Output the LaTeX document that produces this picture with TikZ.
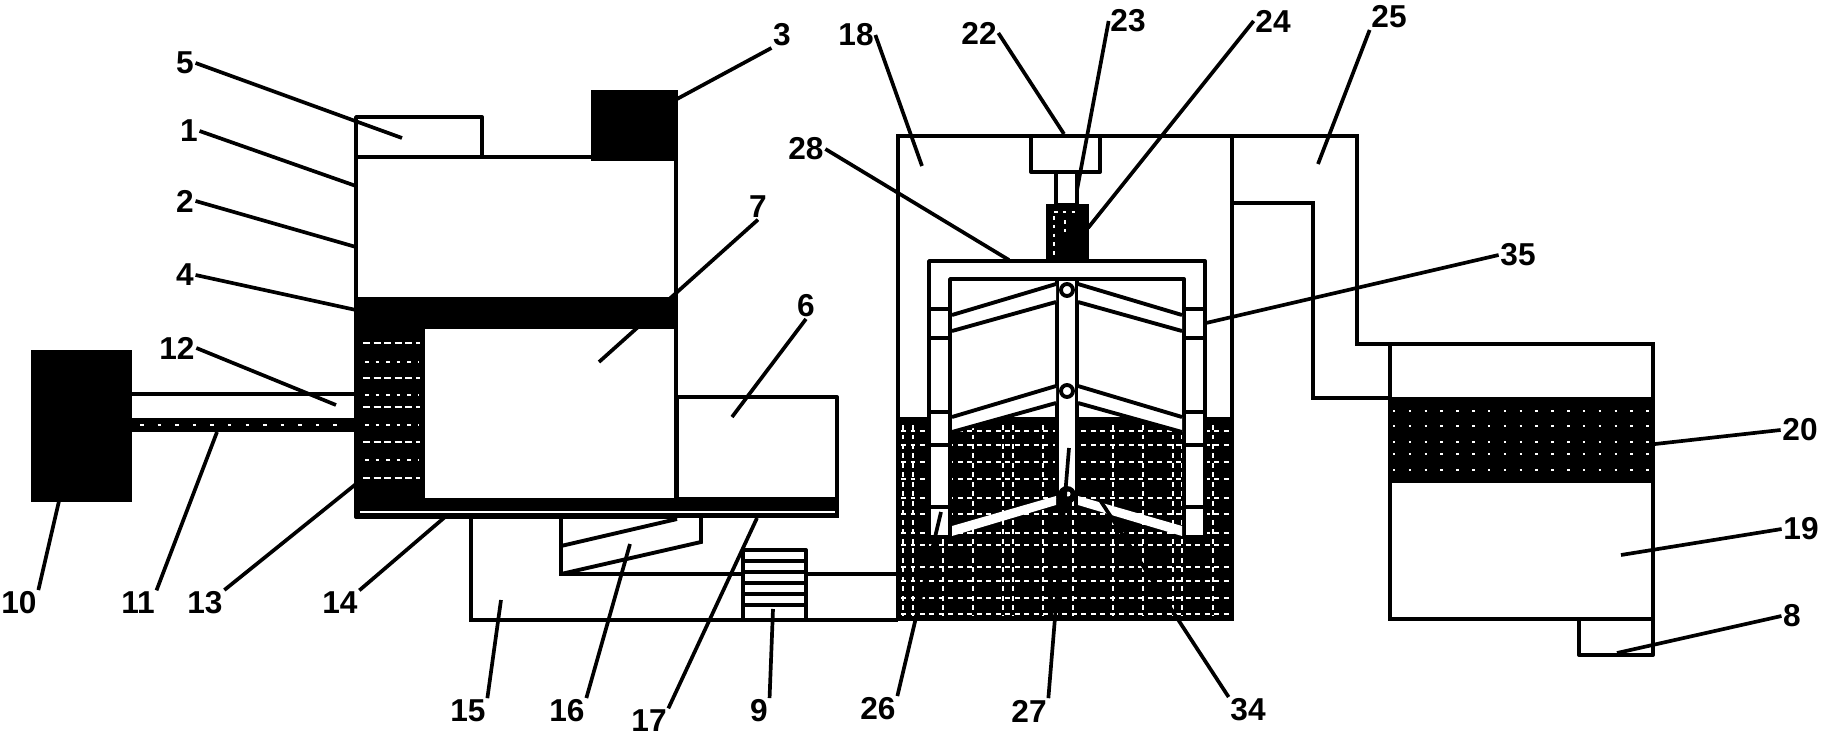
\documentclass[tikz,border=0pt]{standalone}
\usepackage{fontspec}
\setmainfont{Liberation Sans}
\tikzset{
  part/.style={line width=1.1pt, fill=white, line join=round},
  solid black/.style={fill=black, draw=black, line width=0.6pt},
  speck/.style={white, line width=0.32pt, dash pattern=on 1.4pt off 1.3pt},
  leader/.style={line width=1.05pt, black},
  lab/.style={font=\fontsize{9}{10}\bfseries, inner sep=0.3pt}
}
\begin{document}
\begin{tikzpicture}[x=0.01cm,y=-0.01cm]
        \useasboundingbox (0,0) rectangle (1823,736);
        % left housing
        \draw[part] (356,117) rectangle (482,157);
        \draw[part] (356,157) rectangle (676,517);
        \draw[solid black] (592,91) rectangle (677,160);
        \draw[solid black] (356,298) rectangle (677,328);
        \draw[solid black] (356,328) rectangle (424,499);
        \draw[part] (677,397) rectangle (837,499);
        \draw[solid black] (356,499) rectangle (838,517);
        \draw[white, line width=0.35pt] (360,512) -- (835,512);
        \foreach \y in {343,378,407,442,478}
            \draw[white, line width=0.7pt, dash pattern=on 2pt off 1pt] (363,\y) -- (420,\y);
        \foreach \y in {362,395,425,460}
            \draw[white, line width=0.3pt, dash pattern=on 1pt off 2pt] (365,\y) -- (418,\y);
        % motor and rods
        \draw[solid black] (32,351) rectangle (131,501);
        \draw[line width=1.1pt] (131,394) -- (356,394);
        \draw[solid black] (131,419) rectangle (356,431);
        \draw[white, line width=0.5pt, dash pattern=on 1pt off 4pt] (140,425) -- (350,425);
        % base and chute
        \draw[line width=1.1pt] (471,517) -- (471,620) -- (898,620);
        \draw[line width=1.1pt] (561,517) -- (561,574) -- (898,574);
        \draw[line width=1.1pt] (561,546) -- (677,519);
        \draw[line width=1.1pt] (561,574) -- (701,542) -- (701,517);
        % pump
        \draw[part] (743,550) rectangle (806,620);
        \foreach \y in {561,572,583,594,605}
            \draw[line width=1.1pt] (743,\y) -- (806,\y);
        % tank with liquid
        \draw[line width=1.1pt] (898,620) -- (898,136) -- (1357,136) -- (1357,344) -- (1653,344) -- (1653,619) -- (1390,619) -- (1390,344);
        \draw[line width=1.1pt] (1232,136) -- (1232,417);
        \draw[line width=1.1pt] (1232,203) -- (1313,203) -- (1313,398) -- (1390,398);
        \fill[black] (896,417) rectangle (1234,621);
        \foreach \x in {903,913,943,973,1003,1013,1043,1073,1113,1143,1173,1182,1213}
            \draw[speck] (\x,425) -- (\x,616);
        \foreach \y in {431,445,462,479,498,514,533,545,567,581,598,614}
            \draw[speck] (901,\y) -- (1229,\y);
        % stirring frame
        \draw[part] (929,537) -- (929,261) -- (1205,261) -- (1205,537) -- (1184,537) -- (1184,279) -- (950,279) -- (950,537) -- cycle;
        \foreach \x in {929,1184} {
            \foreach \y in {309,338,412,445,507}
                \draw[line width=1.1pt] (\x,\y) -- +(21,0);
        }
        \draw[part] (1057,279) rectangle (1077,497);
        \foreach \xa/\xb in {1056/952,1078/1182} {
            \fill[white] (\xa,284) -- (\xb,315) -- (\xb,331) -- (\xa,302) -- cycle;
            \draw[line width=1.1pt] (\xa,284) -- (\xb,315) (\xa,302) -- (\xb,331);
            \fill[white] (\xa,386) -- (\xb,417) -- (\xb,432) -- (\xa,403) -- cycle;
            \draw[line width=1.1pt] (\xa,386) -- (\xb,417) (\xa,403) -- (\xb,432);
            \fill[white] (\xa,496) -- (\xb,526) -- (\xb,536) -- (\xa,505) -- cycle;
        }
        \foreach \y in {290,391}
            \draw[part] (1067,\y) circle (6);
        \fill[black] (1067,495) circle (9);
        \fill[white] (1068,494) circle (2.5);
        % top drive
        \draw[part] (1031,136) rectangle (1100,172);
        \draw[part] (1056,172) rectangle (1077,205);
        \draw[solid black] (1047,205) rectangle (1088,260);
        \draw[white, line width=0.35pt, dash pattern=on 1pt off 1.5pt] (1054,212) -- (1078,212) (1054,216) -- (1054,256) (1065,220) -- (1065,235);
        % settling box
        \draw[solid black] (1390,398) rectangle (1653,482);
        \foreach \y in {411,426,442,454,470}
            \draw[white, line width=0.8pt, dash pattern=on 0.7pt off 3.8pt] (1393,\y) -- (1650,\y);
        \draw[part] (1579,619) rectangle (1653,655);
        % labels
        \node[lab] (L1) at (189,131) {1};
        \coordinate (T1) at (356,186);
        \draw[leader] (L1.east) -- (T1);
        \node[lab] (L2) at (185,201) {2};
        \coordinate (T2) at (356,247);
        \draw[leader] (L2.east) -- (T2);
        \node[lab] (L3) at (782,35) {3};
        \coordinate (T3) at (677,99);
        \draw[leader] (L3.south west) -- (T3);
        \node[lab] (L4) at (185,275) {4};
        \coordinate (T4) at (356,310);
        \draw[leader] (L4.east) -- (T4);
        \node[lab] (L5) at (185,63) {5};
        \coordinate (T5) at (402,138);
        \draw[leader] (L5.east) -- (T5);
        \node[lab] (L6) at (806,306) {6};
        \coordinate (T6) at (732,417);
        \draw[leader] (L6.south) -- (T6);
        \node[lab] (L7) at (758,207) {7};
        \coordinate (T7) at (599,362);
        \draw[leader] (L7.south) -- (T7);
        \node[lab] (L8) at (1792,616) {8};
        \coordinate (T8) at (1617,653);
        \draw[leader] (L8.west) -- (T8);
        \node[lab] (L9) at (759,711) {9};
        \coordinate (T9) at (773,609);
        \draw[leader] (L9.north east) -- (T9);
        \node[lab] (L10) at (19,603) {10};
        \coordinate (T10) at (59,501);
        \draw[leader] (L10.north east) -- (T10);
        \node[lab] (L11) at (138,603) {11};
        \coordinate (T11) at (217,432);
        \draw[leader] (L11.north east) -- (T11);
        \node[lab] (L12) at (177,348) {12};
        \coordinate (T12) at (336,405);
        \draw[leader] (L12.east) -- (T12);
        \node[lab] (L13) at (205,603) {13};
        \coordinate (T13) at (356,484);
        \draw[leader] (L13.north east) -- (T13);
        \node[lab] (L14) at (340,603) {14};
        \coordinate (T14) at (445,517);
        \draw[leader] (L14.north east) -- (T14);
        \node[lab] (L15) at (468,711) {15};
        \coordinate (T15) at (501,600);
        \draw[leader] (L15.north east) -- (T15);
        \node[lab] (L16) at (567,711) {16};
        \coordinate (T16) at (630,544);
        \draw[leader] (L16.north east) -- (T16);
        \node[lab] (L17) at (649,721) {17};
        \coordinate (T17) at (757,518);
        \draw[leader] (L17.north east) -- (T17);
        \node[lab] (L18) at (856,35) {18};
        \coordinate (T18) at (922,166);
        \draw[leader] (L18.east) -- (T18);
        \node[lab] (L19) at (1801,529) {19};
        \coordinate (T19) at (1621,555);
        \draw[leader] (L19.west) -- (T19);
        \node[lab] (L20) at (1800,430) {20};
        \coordinate (T20) at (1655,444);
        \draw[leader] (L20.west) -- (T20);
        \node[lab] (L22) at (979,33) {22};
        \coordinate (T22) at (1064,134);
        \draw[leader] (L22.east) -- (T22);
        \node[lab] (L23) at (1128,21) {23};
        \coordinate (T23) at (1077,190);
        \draw[leader] (L23.west) -- (T23);
        \node[lab] (L24) at (1273,21) {24};
        \coordinate (T24) at (1088,228);
        \draw[leader] (L24.west) -- (T24);
        \node[lab] (L25) at (1389,17) {25};
        \coordinate (T25) at (1318,164);
        \draw[leader] (L25.south west) -- (T25);
        \node[lab] (L26) at (878,709) {26};
        \coordinate (T26) at (941,512);
        \draw[leader] (L26.north east) -- (T26);
        \node[lab] (L27) at (1029,711) {27};
        \coordinate (T27) at (1069,448);
        \draw[leader] (L27.north east) -- (T27);
        \node[lab] (L28) at (806,149) {28};
        \coordinate (T28) at (1009,260);
        \draw[leader] (L28.east) -- (T28);
        \node[lab] (L34) at (1248,710) {34};
        \coordinate (T34) at (1100,500);
        \draw[leader] (L34.north west) -- (T34);
        \node[lab] (L35) at (1518,255) {35};
        \coordinate (T35) at (1206,323);
        \draw[leader] (L35.west) -- (T35);
    \end{tikzpicture}
\end{document}
